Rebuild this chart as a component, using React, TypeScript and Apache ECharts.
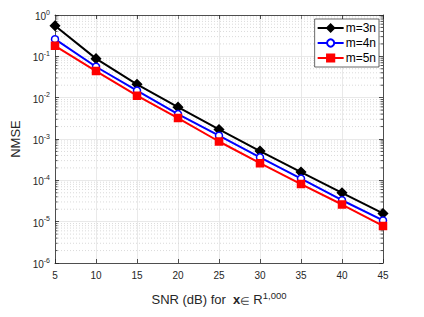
import React, { useEffect, useRef } from "react";
import * as echarts from "echarts";

const snr = [5, 10, 15, 20, 25, 30, 35, 40, 45];
const m3 = [0.55, 0.088, 0.021, 0.0059, 0.0017, 5.1e-4, 1.58e-4, 5.0e-5, 1.58e-5];
const m4 = [0.26, 0.056, 0.0148, 0.004, 0.0012, 3.6e-4, 1.1e-4, 3.3e-5, 1.07e-5];
const m5 = [0.18, 0.044, 0.0112, 0.0032, 8.7e-4, 2.6e-4, 8.1e-5, 2.6e-5, 7.9e-6];
const seriesNames = ["m=3n", "m=4n", "m=5n"];
const decades = [1e-6, 1e-5, 1e-4, 1e-3, 1e-2, 1e-1];
const minorMultipliers = [2, 3, 4, 5, 6, 7, 8, 9];

const FONT = "Liberation Sans, Arial, Helvetica, sans-serif";
const AX = "#262626";

export default function App() {
  const ref = useRef<HTMLDivElement>(null);
  useEffect(() => {
    if (!ref.current) return;
    const chart = echarts.init(ref.current, null, { renderer: "svg" });
    const minorVals: number[][] = [];
    decades.forEach((d) => minorMultipliers.forEach((m) => minorVals.push([5, d * m])));

    const lineSeries = (name: string, data: number[], color: string, symbol: string, size: number, fill: string) => ({
      name,
      type: "line",
      data: snr.map((x, i) => [x, data[i]]),
      symbol,
      symbolSize: size,
      showSymbol: true,
      lineStyle: { color, width: 2 },
      itemStyle: { color: fill, borderColor: color, borderWidth: 1.5 },
      z: 5,
    });

    chart.setOption({
      animation: false,
      textStyle: { fontFamily: FONT },
      grid: { left: 55, right: 41, top: 15, bottom: 54, containLabel: false },
      legend: {
        right: 45,
        top: 19,
        orient: "vertical",
        backgroundColor: "#fff",
        borderColor: AX,
        borderWidth: 0.7,
        borderRadius: 0,
        padding: [3, 3, 3, 2],
        itemGap: 3,
        itemWidth: 26,
        itemHeight: 9,
        textStyle: { fontFamily: FONT, fontSize: 12, color: "#000", padding: [0, 0, 0, -3] },
        data: seriesNames,
      },
      xAxis: [
        {
          type: "value",
          min: 5,
          max: 45,
          interval: 5,
          name: "{n|SNR (dB) for  }{b|x}{s|\u2208 }{n|R}{e|1,000}",
          nameLocation: "middle",
          nameGap: 27,
          nameTextStyle: {
            rich: {
              n: { fontSize: 13, color: "#262626", fontFamily: FONT, lineHeight: 16, verticalAlign: "bottom" },
              b: { fontSize: 13, fontWeight: "bold", color: "#262626", fontFamily: FONT, lineHeight: 16, verticalAlign: "bottom" },
              s: { fontSize: 11, color: "#444", fontFamily: FONT, lineHeight: 16, verticalAlign: "bottom" },
              e: { fontSize: 9.5, color: "#262626", fontFamily: FONT, lineHeight: 16, verticalAlign: "top" },
            },
          },
          axisLine: { show: true, lineStyle: { color: AX, width: 0.8 } },
          axisTick: { inside: true, length: 4, lineStyle: { color: AX, width: 0.8 } },
          axisLabel: { fontSize: 10, color: AX, fontFamily: FONT, margin: 7 },
          splitLine: { show: true, lineStyle: { color: "#e3e3e3", width: 0.8 } },
        },
        {
          type: "value",
          position: "top",
          min: 5,
          max: 45,
          interval: 5,
          axisLine: { show: true, lineStyle: { color: AX, width: 0.8 } },
          axisTick: { inside: true, length: 4, lineStyle: { color: AX, width: 0.8 } },
          axisLabel: { show: false },
          splitLine: { show: false },
        },
      ],
      yAxis: [
        {
          type: "log",
          logBase: 10,
          min: 1e-6,
          max: 1,
          name: "NMSE",
          nameLocation: "middle",
          nameGap: 32,
          nameTextStyle: { fontSize: 13, color: "#262626", fontFamily: FONT },
          axisLine: { show: true, lineStyle: { color: AX, width: 0.8 } },
          axisTick: { inside: true, length: 4, lineStyle: { color: AX, width: 0.8 } },
          axisLabel: {
            margin: 5,
            formatter: (v: number) => `{b|10}{e|${Math.round(Math.log10(v))}}`,
            rich: {
              b: { fontSize: 10, color: AX, fontFamily: FONT, lineHeight: 13, verticalAlign: "bottom" },
              e: { fontSize: 7, color: AX, fontFamily: FONT, lineHeight: 13, verticalAlign: "top" },
            },
          },
          splitLine: { show: true, lineStyle: { color: "#e3e3e3", width: 0.8 } },
        },
        {
          type: "log",
          logBase: 10,
          min: 1e-6,
          max: 1,
          position: "right",
          axisLine: { show: true, lineStyle: { color: AX, width: 0.8 } },
          axisTick: { inside: true, length: 4, lineStyle: { color: AX, width: 0.8 } },
          axisLabel: { show: false },
          splitLine: { show: false },
        },
      ],
      series: [
        {
          type: "custom",
          silent: true,
          data: minorVals,
          z: 1,
          renderItem: (params: any, api: any) => {
            const v = api.value(1);
            const a = api.coord([5, v]);
            const b = api.coord([45, v]);
            return {
              type: "group",
              children: [
                {
                  type: "line",
                  shape: { x1: a[0], y1: a[1], x2: b[0], y2: b[1] },
                  style: { stroke: "#d0d0d0", lineWidth: 0.8, lineDash: [1, 2] },
                },
                {
                  type: "line",
                  shape: { x1: a[0], y1: a[1], x2: a[0] + 2.5, y2: a[1] },
                  style: { stroke: AX, lineWidth: 0.8 },
                },
                {
                  type: "line",
                  shape: { x1: b[0] - 2.5, y1: b[1], x2: b[0], y2: b[1] },
                  style: { stroke: AX, lineWidth: 0.8 },
                },
              ],
            };
          },
        },
        lineSeries(seriesNames[0], m3, "#000000", "diamond", 9, "#000000"),
        lineSeries(seriesNames[1], m4, "#0000ff", "circle", 7, "#ffffff"),
        lineSeries(seriesNames[2], m5, "#ff0000", "rect", 7, "#ff0000"),
      ],
    });
    return () => chart.dispose();
  }, []);
  return <div ref={ref} style={{ width: 424, height: 317, position: "absolute", left: 0, top: 0, background: "#fff" }} />;
}
